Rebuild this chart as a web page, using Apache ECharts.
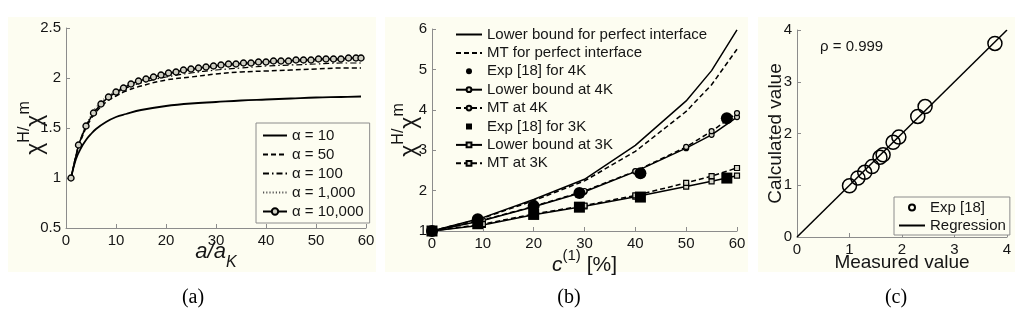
<!DOCTYPE html>
<html><head><meta charset="utf-8">
<script src="https://cdn.jsdelivr.net/npm/echarts@6/dist/echarts.min.js"></script>
<style>html,body{margin:0;padding:0;background:#fff}#c{width:1024px;height:320px}</style>
</head><body><div id="c"></div>
<script>
// ---------- Panel (a) ----------
const aRatioX   = [1, 2, 3, 4, 5, 6, 8, 10, 12, 15, 20, 25, 30, 35, 40, 45, 50, 55, 59];
const alpha10   = [1.00, 1.19, 1.30, 1.38, 1.44, 1.49, 1.56, 1.61, 1.64, 1.68, 1.72, 1.745, 1.76, 1.775, 1.785, 1.795, 1.805, 1.81, 1.815];
const alpha50   = [1.00, 1.22, 1.38, 1.50, 1.59, 1.66, 1.76, 1.82, 1.87, 1.92, 1.98, 2.01, 2.04, 2.06, 2.07, 2.08, 2.09, 2.10, 2.10];
const alpha100  = [1.00, 1.23, 1.40, 1.52, 1.61, 1.69, 1.79, 1.85, 1.90, 1.95, 2.01, 2.05, 2.08, 2.10, 2.12, 2.13, 2.14, 2.15, 2.15];
const alpha1000 = [1.00, 1.24, 1.41, 1.53, 1.63, 1.71, 1.81, 1.87, 1.92, 1.97, 2.03, 2.08, 2.11, 2.13, 2.15, 2.16, 2.17, 2.18, 2.18];
const markerX    = [1, 2.5, 4, 5.5, 7, 8.5, 10, 11.5, 13, 14.5, 16, 17.5, 19, 20.5, 22, 23.5, 25, 26.5, 28, 29.5, 31, 32.5, 34, 35.5, 37, 38.5, 40, 41.5, 43, 44.5, 46, 47.5, 49, 50.5, 52, 53.5, 55, 56.5, 58, 59];
const alpha10000 = [1.00, 1.33, 1.52, 1.65, 1.74, 1.81, 1.86, 1.90, 1.94, 1.97, 1.99, 2.01, 2.03, 2.05, 2.06, 2.08, 2.09, 2.10, 2.11, 2.12, 2.13, 2.14, 2.14, 2.15, 2.15, 2.16, 2.16, 2.17, 2.17, 2.17, 2.18, 2.18, 2.18, 2.19, 2.19, 2.19, 2.19, 2.20, 2.20, 2.20];
const aYTicks = ['0.5', '1', '1.5', '2', '2.5'];

// ---------- Panel (b) ----------
const concX     = [0, 10, 20, 30, 40, 50, 55, 60];
const lbPerfect = [1.00, 1.33, 1.78, 2.28, 3.12, 4.22, 4.97, 5.98];
const mtPerfect = [1.00, 1.32, 1.75, 2.24, 2.97, 3.96, 4.62, 5.50];
const lb4K      = [1.00, 1.26, 1.60, 1.97, 2.47, 3.05, 3.38, 3.82];
const mt4K      = [1.00, 1.27, 1.61, 1.99, 2.48, 3.08, 3.47, 3.92];
const lb3K      = [1.00, 1.15, 1.40, 1.61, 1.85, 2.10, 2.23, 2.37];
const mt3K      = [1.00, 1.17, 1.42, 1.63, 1.88, 2.19, 2.36, 2.56];
const expX      = [0, 9, 20, 29, 41, 58];
const exp4K     = [1.00, 1.29, 1.62, 1.94, 2.43, 3.79];
const exp3K     = [1.00, 1.18, 1.41, 1.59, 1.84, 2.31];

// ---------- Panel (c) ----------
const measured   = [1.00, 1.16, 1.29, 1.43, 1.58, 1.64, 1.83, 1.94, 2.30, 2.44, 3.77];
const calculated = [0.99, 1.14, 1.25, 1.36, 1.54, 1.59, 1.83, 1.93, 2.33, 2.52, 3.74];
const regressionX = [0, 4];
const regressionY = [0, 4];

const FF = "'Liberation Sans', Arial, sans-serif";
const SERIF = "'Liberation Serif', 'Times New Roman', serif";
const AX = '#8c8c8c';
const TX = '#151515';
const CREAM = '#fdfdf1';
const pair = (xs, ys) => xs.map((x, i) => [x, ys[i]]);
const SQUARE = 'path://M0,0H10V10H0Z';

function axis(extra) {
  return Object.assign({
    type: 'value',
    nameMoveOverlap: false,
    axisLine: { show: true, onZero: false, lineStyle: { color: AX, width: 1 } },
    axisTick: { show: true, inside: true, length: 4, lineStyle: { color: AX } },
    axisLabel: { color: TX, fontSize: 15, fontFamily: FF, margin: 5 },
    splitLine: { show: false },
    nameTextStyle: { color: TX, fontFamily: FF }
  }, extra);
}
const chiName = '{c|χ}{s|H}{s|/}{c|χ}{s|m}';
const chiRich = {
  c: { fontSize: 23, fontFamily: FF, color: TX, verticalAlign: 'bottom', lineHeight: 30 },
  s: { fontSize: 16, fontFamily: FF, color: TX, verticalAlign: 'top', lineHeight: 30 }
};
function line(name, xi, yi, xs, ys, type, extra) {
  return Object.assign({
    name, type: 'line', xAxisIndex: xi, yAxisIndex: yi, data: pair(xs, ys),
    symbol: 'none', smooth: false, z: 3,
    lineStyle: { color: '#000', width: 1.5, type: type },
    itemStyle: { color: '#000' }
  }, extra || {});
}
const smallCircle = { symbol: 'circle', symbolSize: 5, showSymbol: true,
  itemStyle: { color: '#d8d8cc', borderColor: '#000', borderWidth: 1.2 } };
const smallSquare = { symbol: 'rect', symbolSize: 5, showSymbol: true,
  itemStyle: { color: '#d8d8cc', borderColor: '#000', borderWidth: 1.2 } };
const noSym = name => ({ name, itemStyle: { opacity: 0 } });

const option = {
  backgroundColor: '#fff',
  animation: false,
  graphic: [
    { type: 'rect', z: -100, shape: { x: 8, y: 17, width: 368, height: 255 }, style: { fill: CREAM } },
    { type: 'rect', z: -100, shape: { x: 385, y: 17, width: 363, height: 255 }, style: { fill: CREAM } },
    { type: 'rect', z: -100, shape: { x: 758, y: 17, width: 257, height: 255 }, style: { fill: CREAM } },
    { type: 'text', x: 820, y: 47, style: { text: 'ρ = 0.999', font: '15px ' + FF, fill: TX, verticalAlign: 'middle' } },
    { type: 'text', x: 193, y: 298, style: { text: '(a)', font: '20px ' + SERIF, fill: '#000', align: 'center', verticalAlign: 'middle' } },
    { type: 'text', x: 569, y: 298, style: { text: '(b)', font: '20px ' + SERIF, fill: '#000', align: 'center', verticalAlign: 'middle' } },
    { type: 'text', x: 896, y: 298, style: { text: '(c)', font: '20px ' + SERIF, fill: '#000', align: 'center', verticalAlign: 'middle' } }
  ],
  grid: [
    { left: 66, top: 28, width: 300, height: 200 },
    { left: 432, top: 29, width: 305, height: 202 },
    { left: 797, top: 30, width: 210, height: 207 }
  ],
  xAxis: [
    axis({ gridIndex: 0, min: 0, max: 60, interval: 10,
      name: '{i|a/a}{sub|K}', nameLocation: 'middle', nameGap: 13,
      nameTextStyle: { rich: {
        i: { fontSize: 22, fontStyle: 'italic', fontFamily: FF, color: TX, verticalAlign: 'top', lineHeight: 30 },
        sub: { fontSize: 16, fontStyle: 'italic', fontFamily: FF, color: TX, verticalAlign: 'bottom', lineHeight: 30 } } } }),
    axis({ gridIndex: 1, min: 0, max: 60, interval: 10,
      name: '{i|c}{sup|(1)}{n| [%]}', nameLocation: 'middle', nameGap: 17,
      nameTextStyle: { rich: {
        i: { fontSize: 21, fontStyle: 'italic', fontFamily: FF, color: TX, verticalAlign: 'bottom', lineHeight: 28 },
        sup: { fontSize: 15, fontFamily: FF, color: TX, verticalAlign: 'top', lineHeight: 28 },
        n: { fontSize: 21, fontFamily: FF, color: TX, verticalAlign: 'bottom', lineHeight: 28 } } } }),
    axis({ gridIndex: 2, min: 0, max: 4, interval: 1,
      name: 'Measured value', nameLocation: 'middle', nameGap: 16,
      nameTextStyle: { fontSize: 19, color: TX, fontFamily: FF } })
  ],
  yAxis: [
    axis({ gridIndex: 0, min: 0.5, max: 2.5, interval: 0.5,
      axisLabel: { color: TX, fontSize: 15, fontFamily: FF, margin: 5, formatter: v => aYTicks[Math.round((v - 0.5) / 0.5)] },
      name: chiName, nameLocation: 'middle', nameGap: 19, nameRotate: 90,
      nameTextStyle: { rich: chiRich } }),
    axis({ gridIndex: 1, min: 1, max: 6, interval: 1,
      name: chiName, nameLocation: 'middle', nameGap: 11, nameRotate: 90,
      nameTextStyle: { rich: chiRich } }),
    axis({ gridIndex: 2, min: 0, max: 4, interval: 1,
      name: 'Calculated value', nameLocation: 'middle', nameGap: 12, nameRotate: 90,
      nameTextStyle: { fontSize: 19, color: TX, fontFamily: FF } })
  ],
  legend: [
    { data: [noSym('α = 10'), noSym('α = 50'), noSym('α = 100'), noSym('α = 1,000'), 'α = 10,000'],
      orient: 'vertical', left: 256, top: 123, itemWidth: 24, itemHeight: 8, itemGap: 4,
      padding: [5, 6, 4, 6], borderColor: AX, borderWidth: 1, backgroundColor: CREAM,
      selectedMode: false, textStyle: { fontSize: 15, color: TX, fontFamily: FF } },
    { data: [noSym('Lower bound for perfect interface'), noSym('MT for perfect interface'),
             { name: 'Exp [18] for 4K', icon: 'circle' }, 'Lower bound at 4K', 'MT at 4K',
             { name: 'Exp [18] for 3K', icon: SQUARE }, 'Lower bound at 3K', 'MT at 3K'],
      orient: 'vertical', left: 455, top: 27, itemWidth: 26, itemHeight: 6, itemGap: 3.4,
      padding: 0, selectedMode: false, textStyle: { fontSize: 15, color: TX, fontFamily: FF } },
    { data: [{ name: 'Exp [18]', icon: 'circle' }, noSym('Regression')],
      orient: 'vertical', left: 894, top: 197, itemWidth: 26, itemHeight: 6, itemGap: 3,
      padding: [3, 4, 2, 4], borderColor: AX, borderWidth: 1, backgroundColor: CREAM,
      selectedMode: false, textStyle: { fontSize: 15, color: TX, fontFamily: FF } }
  ],
  series: [
    // (a)
    line('α = 10', 0, 0, aRatioX, alpha10, 'solid', { smooth: 0.4, lineStyle: { color: '#000', width: 1.8, type: 'solid' } }),
    line('α = 50', 0, 0, aRatioX, alpha50, [5, 3], { smooth: 0.4 }),
    line('α = 100', 0, 0, aRatioX, alpha100, [6, 3, 1.5, 3], { smooth: 0.4, lineStyle: { color: '#000', width: 1.2, type: [6, 3, 1.5, 3] } }),
    line('α = 1,000', 0, 0, aRatioX, alpha1000, [1.2, 2], { smooth: 0.4, lineStyle: { color: '#555', width: 1, type: [1.2, 2] } }),
    line('α = 10,000', 0, 0, markerX, alpha10000, 'solid', { symbol: 'circle', symbolSize: 6, showSymbol: true, z: 4,
      itemStyle: { color: '#d0d0c4', borderColor: '#000', borderWidth: 1.4 } }),
    // (b)
    line('Lower bound for perfect interface', 1, 1, concX, lbPerfect, 'solid'),
    line('MT for perfect interface', 1, 1, concX, mtPerfect, [5, 3]),
    { name: 'Exp [18] for 4K', type: 'scatter', xAxisIndex: 1, yAxisIndex: 1, data: pair(expX, exp4K),
      symbol: 'circle', symbolSize: 12, itemStyle: { color: '#000', opacity: 1 }, z: 5 },
    line('Lower bound at 4K', 1, 1, concX, lb4K, 'solid', smallCircle),
    line('MT at 4K', 1, 1, concX, mt4K, [5, 3], smallCircle),
    { name: 'Exp [18] for 3K', type: 'scatter', xAxisIndex: 1, yAxisIndex: 1, data: pair(expX, exp3K),
      symbol: 'rect', symbolSize: 11, itemStyle: { color: '#000', opacity: 1 }, z: 5 },
    line('Lower bound at 3K', 1, 1, concX, lb3K, 'solid', smallSquare),
    line('MT at 3K', 1, 1, concX, mt3K, [5, 3], smallSquare),
    // (c)
    { name: 'Exp [18]', type: 'scatter', xAxisIndex: 2, yAxisIndex: 2, data: pair(measured, calculated),
      symbol: 'circle', symbolSize: 14, itemStyle: { color: 'rgba(0,0,0,0)', borderColor: '#000', borderWidth: 1.5, opacity: 1 }, z: 4 },
    line('Regression', 2, 2, regressionX, regressionY, 'solid')
  ]
};
echarts.init(document.getElementById('c')).setOption(option);
</script>
</body></html>
